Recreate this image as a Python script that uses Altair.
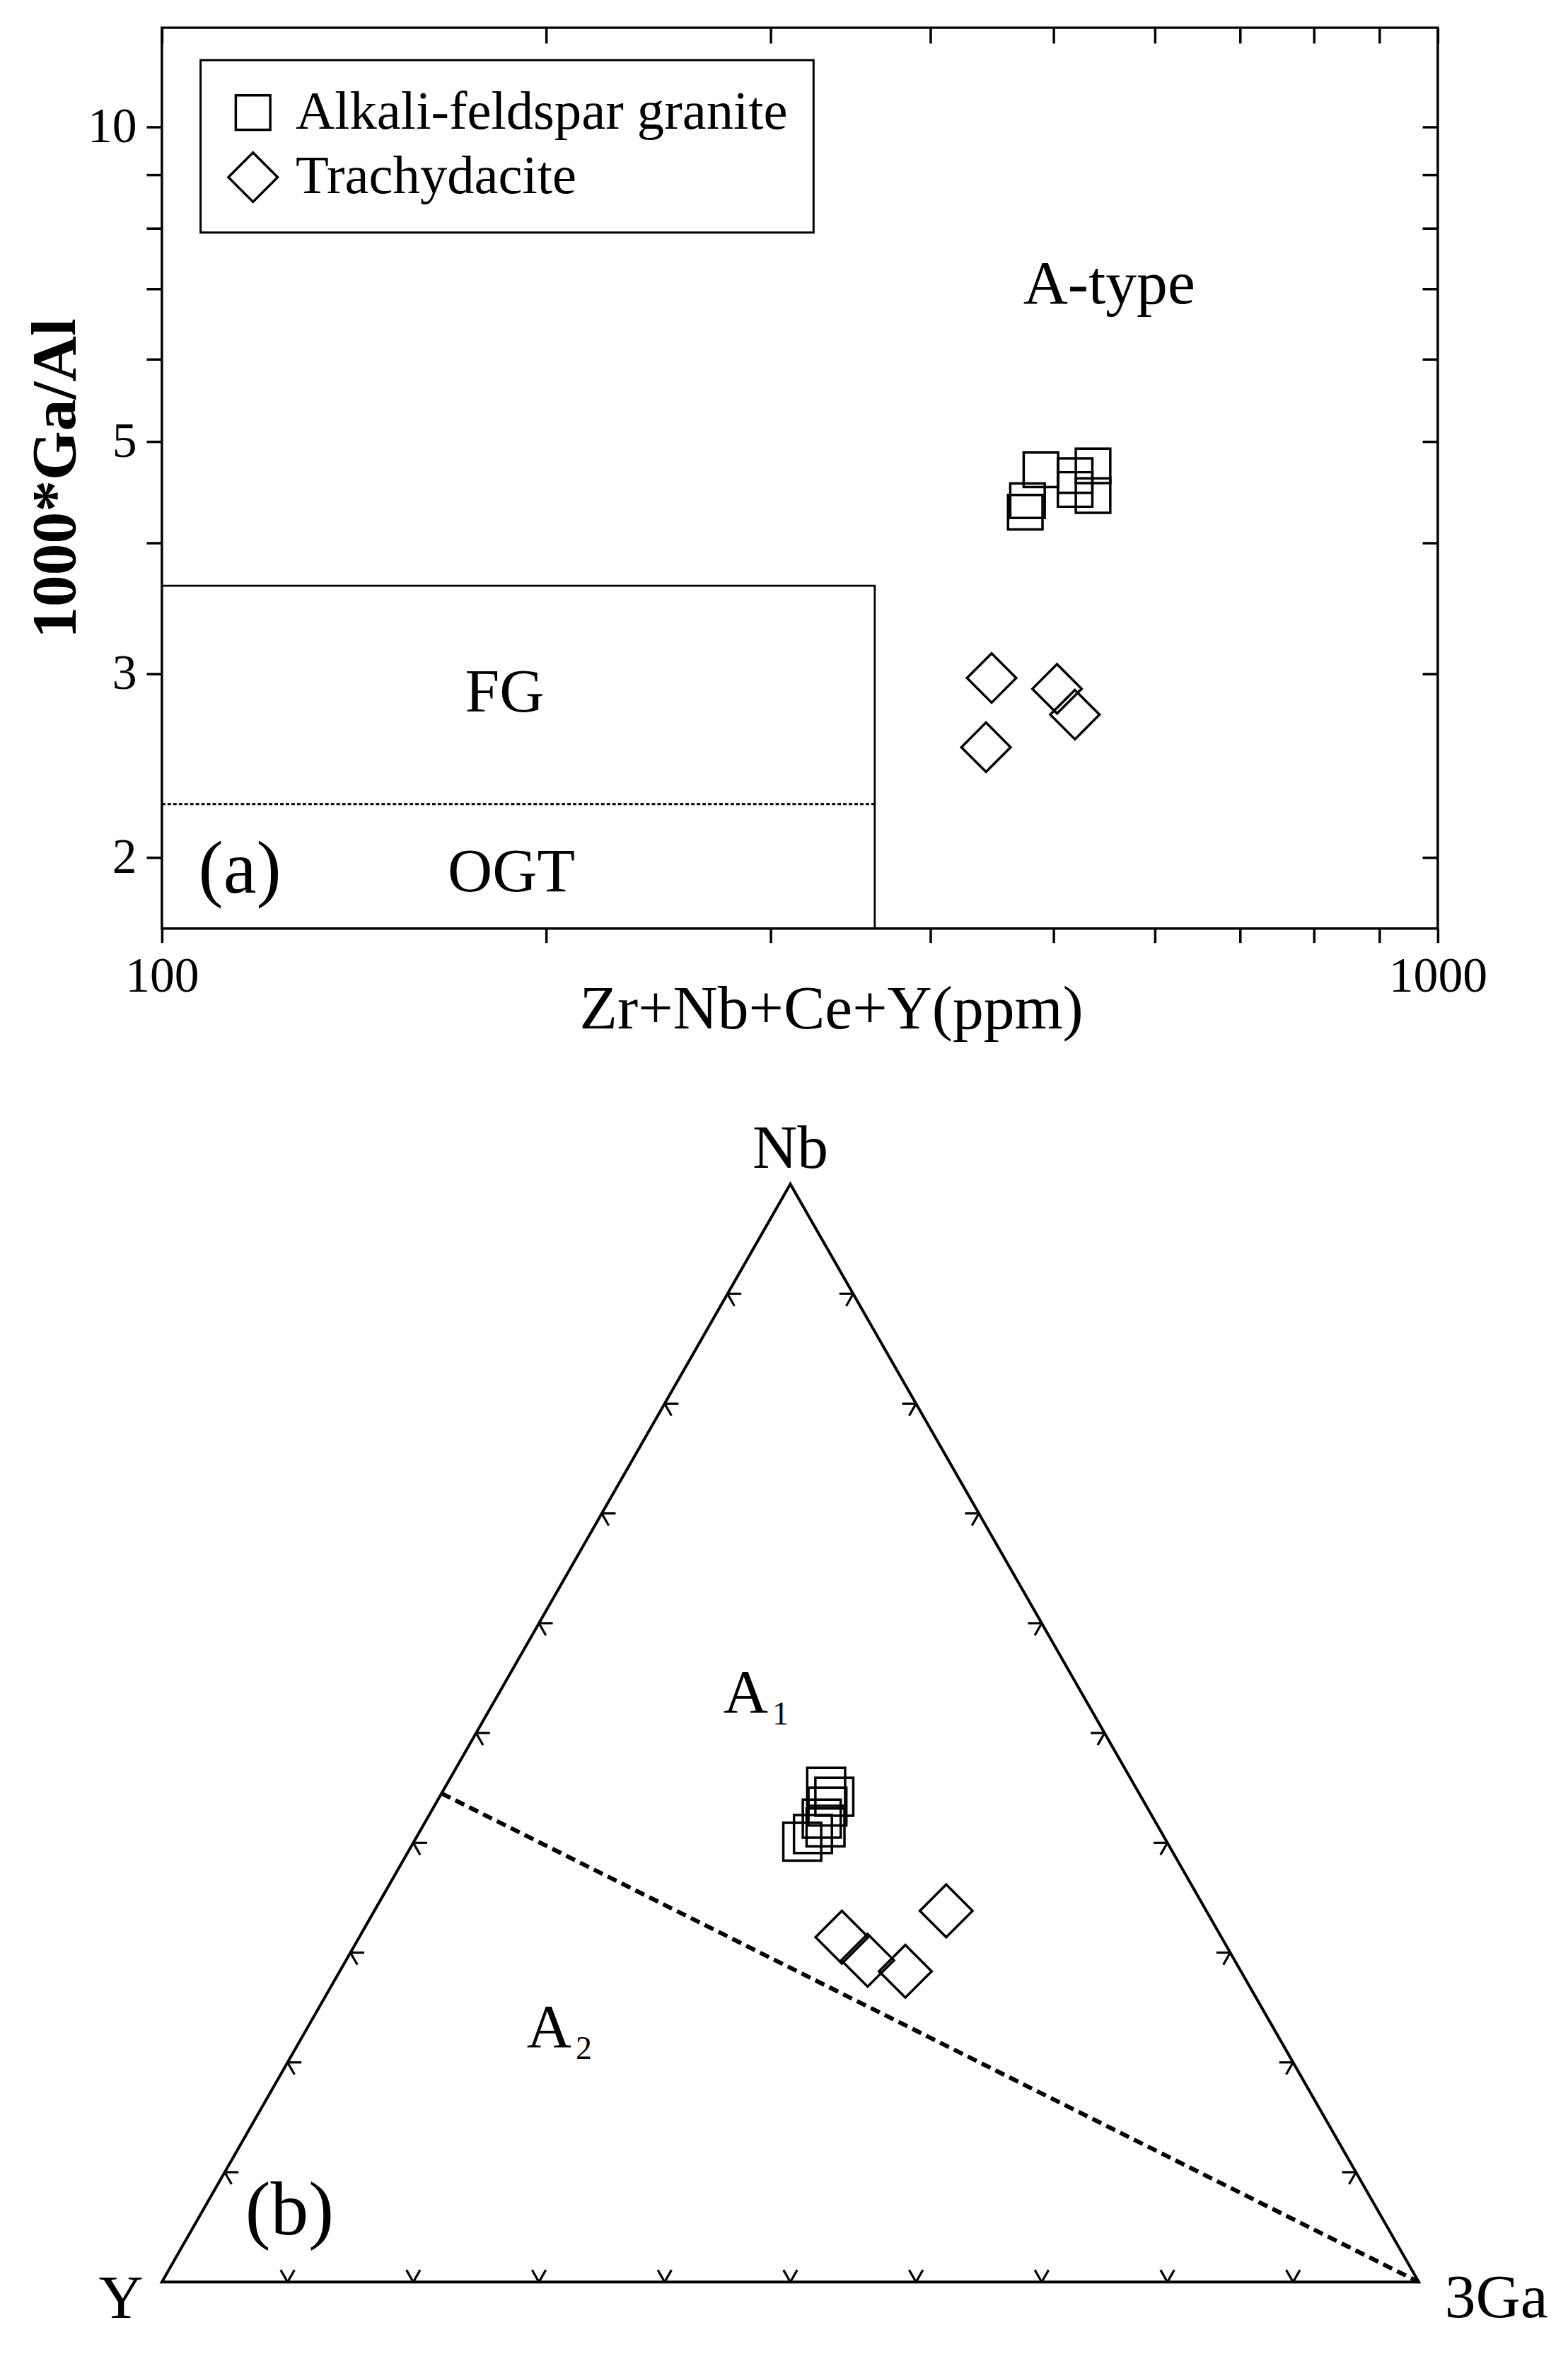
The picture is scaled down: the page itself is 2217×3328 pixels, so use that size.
import json
import altair as alt
import pandas as pd

SERIF = "Liberation Serif"

# ---------------- Panel (a): Zr+Nb+Ce+Y vs 1000*Ga/Al ----------------
ROCKS = ["Alkali-feldspar granite", "Trachydacite"]
GRANITE_ZR_NB_CE_Y = [488.6, 476.9, 475.0, 519.7, 519.7, 536.8, 536.8]
GRANITE_GA_AL = [4.70, 4.39, 4.28, 4.64, 4.50, 4.74, 4.44]
TRACHY_ZR_NB_CE_Y = [447.0, 503.0, 519.5, 442.5]
TRACHY_GA_AL = [2.97, 2.90, 2.74, 2.55]

FG_LINE_X = [100, 362, 362]
FG_LINE_Y = [3.64, 3.64, 1.71]
OGT_LINE_X = [100, 362]
OGT_LINE_Y = [2.25, 2.25]

X_DOMAIN = [100, 1000]
Y_DOMAIN = [1.71, 12.45]
X_TICKS = [100, 200, 300, 400, 500, 600, 700, 800, 900, 1000]
X_TICK_LABELS = [100, 1000]
Y_TICKS = [2, 3, 4, 5, 6, 7, 8, 9, 10]
Y_TICK_LABELS = [2, 3, 5, 10]

REGION_TEXT = ["A-type", "FG", "OGT"]
REGION_X = [552.6, 185.6, 187.9]
REGION_Y = [6.78, 2.76, 1.857]
TAG_A_TEXT = ["(a)"]
TAG_A_X = [115.1]
TAG_A_Y = [1.85]

# ---------------- Panel (b): Nb - Y - 3Ga ternary (percent) ----------------
SQ_NB = [45.1, 44.2, 43.3, 42.2, 41.4, 40.8, 40.1]
SQ_Y = [24.6, 24.4, 25.4, 26.4, 26.5, 27.8, 29.0]
SQ_GA = [30.3, 31.4, 31.3, 31.4, 32.1, 31.4, 30.9]
DI_NB = [33.8, 31.4, 29.3, 28.3]
DI_Y = [20.7, 30.2, 29.2, 26.7]
DI_GA = [45.5, 38.4, 41.5, 45.0]

VERTEX_NB = [0, 0, 100]
VERTEX_Y = [100, 0, 0]
VERTEX_GA = [0, 100, 0]

BOUND_NB = [44.5, 0]
BOUND_Y = [55.5, 0]
BOUND_GA = [0, 100]

TICK_PCT = [10, 20, 30, 40, 50, 60, 70, 80, 90]
TICK_LEN = 1.1

FIELD_TEXT = ["A", "A"]
FIELD_SUB = ["1", "2"]
FIELD_NB = [51.9, 21.4]
FIELD_Y = [27.6, 58.5]
FIELD_GA = [20.5, 20.1]

TAG_B_TEXT = ["(b)"]
TAG_B_NB = [4.3]
TAG_B_Y = [87.7]
TAG_B_GA = [8.0]


def project(nb, y, ga):
    t = nb + y + ga
    return (ga + nb / 2.0) / t, nb / t


# ======================= Panel (a) =======================
W_A, H_A = 1813, 1280
xs = alt.Scale(type="log", domain=X_DOMAIN, nice=False)
ys = alt.Scale(type="log", domain=Y_DOMAIN, nice=False)

pts_a = pd.DataFrame({
    "sum": GRANITE_ZR_NB_CE_Y + TRACHY_ZR_NB_CE_Y,
    "gaal": GRANITE_GA_AL + TRACHY_GA_AL,
    "rock": [ROCKS[0]] * len(GRANITE_GA_AL) + [ROCKS[1]] * len(TRACHY_GA_AL),
})

x_lab_expr = "indexof(%s, datum.value) >= 0 ? '' + datum.value : ''" % json.dumps(X_TICK_LABELS)
y_lab_expr = "indexof(%s, datum.value) >= 0 ? '' + datum.value : ''" % json.dumps(Y_TICK_LABELS)

legend = alt.Legend(
    title=None, orient="none", legendX=55, legendY=46, direction="vertical",
    labelFont=SERIF, labelFontSize=77, labelColor="black", labelOffset=22,
    labelLimit=1500, padding=36, rowPadding=11,
    strokeColor="black", fillColor="white",
    symbolStrokeWidth=3.5, symbolStrokeColor="black", symbolFillColor="white",
)

points_a = alt.Chart(pts_a).mark_point(
    filled=False, color="black", strokeWidth=3.5, opacity=1
).encode(
    x=alt.X("sum:Q", scale=xs, title="Zr+Nb+Ce+Y(ppm)", axis=alt.Axis(
        orient="bottom", values=X_TICKS, labelExpr=x_lab_expr, domain=False,
        tickSize=20, tickWidth=3.5, tickColor="black", grid=False,
        labelFont=SERIF, labelFontSize=70, labelColor="black", labelPadding=14,
        labelFlush=False, labelOverlap=False,
        titleFont=SERIF, titleFontSize=88, titleFontWeight="normal", titleColor="black",
        titleX=951, titleY=141, titleAlign="center", titleBaseline="alphabetic")),
    y=alt.Y("gaal:Q", scale=ys, title="1000*Ga/Al", axis=alt.Axis(
        orient="left", values=Y_TICKS, labelExpr=y_lab_expr, domain=False,
        tickSize=22, tickWidth=3.5, tickColor="black", grid=False,
        labelFont=SERIF, labelFontSize=70, labelColor="black", labelPadding=14,
        labelFlush=False, labelOverlap=False,
        titleFont=SERIF, titleFontSize=90, titleFontWeight="bold", titleColor="black",
        titleX=-151, titleY=H_A / 2, titleAngle=270, titleAlign="center",
        titleBaseline="middle")),
    shape=alt.Shape("rock:N", scale=alt.Scale(domain=ROCKS, range=["square", "diamond"]),
                    legend=legend),
    size=alt.Size("rock:N", scale=alt.Scale(type="ordinal", domain=ROCKS, range=[2400, 4900]),
                  legend=legend),
)

tick_df_x = pd.DataFrame({"sum": X_TICKS})
top_axis = alt.Chart(tick_df_x).mark_point(opacity=0).encode(
    x=alt.X("sum:Q", scale=xs, title=None, axis=alt.Axis(
        orient="top", values=X_TICKS, labels=False, domain=False, grid=False,
        tickSize=22, tickWidth=3.5, tickColor="black", offset=-22)),
)
tick_df_y = pd.DataFrame({"gaal": Y_TICKS})
right_axis = alt.Chart(tick_df_y).mark_point(opacity=0).encode(
    y=alt.Y("gaal:Q", scale=ys, title=None, axis=alt.Axis(
        orient="right", values=Y_TICKS, labels=False, domain=False, grid=False,
        tickSize=22, tickWidth=3.5, tickColor="black", offset=-22)),
)

fg_df = pd.DataFrame({"sum": FG_LINE_X, "gaal": FG_LINE_Y, "o": list(range(len(FG_LINE_X)))})
fg_line = alt.Chart(fg_df).mark_line(color="black", strokeWidth=2.8, strokeJoin="miter").encode(
    x=alt.X("sum:Q", scale=xs, axis=None),
    y=alt.Y("gaal:Q", scale=ys, axis=None),
    order="o:Q",
)
ogt_df = pd.DataFrame({"sum": OGT_LINE_X, "gaal": OGT_LINE_Y})
ogt_line = alt.Chart(ogt_df).mark_line(color="black", strokeWidth=3, strokeDash=[5, 3]).encode(
    x=alt.X("sum:Q", scale=xs, axis=None),
    y=alt.Y("gaal:Q", scale=ys, axis=None),
)

region_df = pd.DataFrame({"sum": REGION_X, "gaal": REGION_Y, "t": REGION_TEXT})
region_text = alt.Chart(region_df).mark_text(
    font=SERIF, fontSize=88, color="black", align="center", baseline="alphabetic"
).encode(
    x=alt.X("sum:Q", scale=xs, axis=None),
    y=alt.Y("gaal:Q", scale=ys, axis=None),
    text="t:N",
)
tag_a_df = pd.DataFrame({"sum": TAG_A_X, "gaal": TAG_A_Y, "t": TAG_A_TEXT})
tag_a = alt.Chart(tag_a_df).mark_text(
    font=SERIF, fontSize=106, color="black", align="center", baseline="alphabetic"
).encode(
    x=alt.X("sum:Q", scale=xs, axis=None),
    y=alt.Y("gaal:Q", scale=ys, axis=None),
    text="t:N",
)

panel_a = alt.layer(
    fg_line, ogt_line, region_text, tag_a, top_axis, right_axis, points_a
).properties(
    width=W_A, height=H_A,
    view=alt.ViewBackground(stroke="black", strokeWidth=3.5),
)

# ======================= Panel (b) =======================
W_B, H_B = 1786, 1560
xb = alt.Scale(domain=[0, 1], nice=False, zero=False)
yb = alt.Scale(domain=[0, 1], nice=False, zero=False)


def tern_df(nb_list, y_list, ga_list, **extra):
    rows = []
    for i, (n, yy, g) in enumerate(zip(nb_list, y_list, ga_list)):
        px, py = project(n, yy, g)
        r = {"px": px, "py": py, "o": i}
        for k, v in extra.items():
            r[k] = v[i]
        rows.append(r)
    return pd.DataFrame(rows)


def enc_xy():
    return dict(
        x=alt.X("px:Q", scale=xb, axis=None),
        y=alt.Y("py:Q", scale=yb, axis=None),
    )


tri_df = tern_df(VERTEX_NB, VERTEX_Y, VERTEX_GA)
triangle = alt.Chart(tri_df).mark_line(
    color="black", strokeWidth=4, interpolate="linear-closed", strokeJoin="miter"
).encode(order="o:Q", **enc_xy())

# tick stubs (V-shaped, pointing into the triangle)
seg_rows = []
L = TICK_LEN
for f in TICK_PCT:
    sides = [
        ((0, 100 - f, f), [(L, 100 - f, f - L), (L, 100 - f - L, f)]),
        ((f, 100 - f, 0), [(f, 100 - f - L, L), (f - L, 100 - f, L)]),
        ((f, 0, 100 - f), [(f, L, 100 - f - L), (f - L, L, 100 - f)]),
    ]
    for start, ends in sides:
        sx, sy = project(*start)
        for e in ends:
            ex, ey = project(*e)
            seg_rows.append({"px": sx, "py": sy, "px2": ex, "py2": ey})
seg_df = pd.DataFrame(seg_rows)
ticks_b = alt.Chart(seg_df).mark_rule(color="black", strokeWidth=3.2).encode(
    x=alt.X("px:Q", scale=xb, axis=None),
    y=alt.Y("py:Q", scale=yb, axis=None),
    x2="px2:Q", y2="py2:Q",
)

bound_df = tern_df(BOUND_NB, BOUND_Y, BOUND_GA)
boundary = alt.Chart(bound_df).mark_line(
    color="black", strokeWidth=6, strokeDash=[14, 8]
).encode(order="o:Q", **enc_xy())

sq_df = tern_df(SQ_NB, SQ_Y, SQ_GA)
squares_b = alt.Chart(sq_df).mark_point(
    shape="square", size=2900, filled=False, color="black", strokeWidth=3.5, opacity=1
).encode(**enc_xy())
di_df = tern_df(DI_NB, DI_Y, DI_GA)
diamonds_b = alt.Chart(di_df).mark_point(
    shape="diamond", size=5600, filled=False, color="black", strokeWidth=3.5, opacity=1
).encode(**enc_xy())

apex_df = tern_df([100], [0], [0], t=["Nb"])
apex_lab = alt.Chart(apex_df).mark_text(
    font=SERIF, fontSize=88, color="black", align="center", baseline="alphabetic", dy=-23
).encode(text="t:N", **enc_xy())
yv_df = tern_df([0], [100], [0], t=["Y"])
y_lab = alt.Chart(yv_df).mark_text(
    font=SERIF, fontSize=88, color="black", align="center", baseline="alphabetic", dx=-58, dy=51
).encode(text="t:N", **enc_xy())
gav_df = tern_df([0], [0], [100], t=["3Ga"])
ga_lab = alt.Chart(gav_df).mark_text(
    font=SERIF, fontSize=88, color="black", align="left", baseline="alphabetic", dx=37, dy=50
).encode(text="t:N", **enc_xy())

field_df = tern_df(FIELD_NB, FIELD_Y, FIELD_GA, t=FIELD_TEXT, s=FIELD_SUB)
field_lab = alt.Chart(field_df).mark_text(
    font=SERIF, fontSize=88, color="black", align="center", baseline="alphabetic"
).encode(text="t:N", **enc_xy())
field_sub = alt.Chart(field_df).mark_text(
    font=SERIF, fontSize=46, color="black", align="left", baseline="alphabetic", dx=38, dy=17
).encode(text="s:N", **enc_xy())

tag_b_df = tern_df(TAG_B_NB, TAG_B_Y, TAG_B_GA, t=TAG_B_TEXT)
tag_b = alt.Chart(tag_b_df).mark_text(
    font=SERIF, fontSize=108, color="black", align="center", baseline="alphabetic"
).encode(text="t:N", **enc_xy())

panel_b = alt.layer(
    triangle, ticks_b, boundary, squares_b, diamonds_b,
    apex_lab, y_lab, ga_lab, field_lab, field_sub, tag_b
).properties(
    width=W_B, height=H_B,
    view=alt.ViewBackground(strokeOpacity=0),
)

chart = alt.vconcat(panel_a, panel_b, spacing=363, bounds="flush").resolve_scale(
    x="independent", y="independent", shape="independent", size="independent"
).resolve_legend(
    shape="independent", size="independent"
).properties(
    padding={"left": 24, "top": 19, "right": 20, "bottom": 20},
    background="white",
).configure(font=SERIF).configure_legend(strokeWidth=3)

chart.save("out.html", embed_options={"renderer": "svg", "actions": False})
